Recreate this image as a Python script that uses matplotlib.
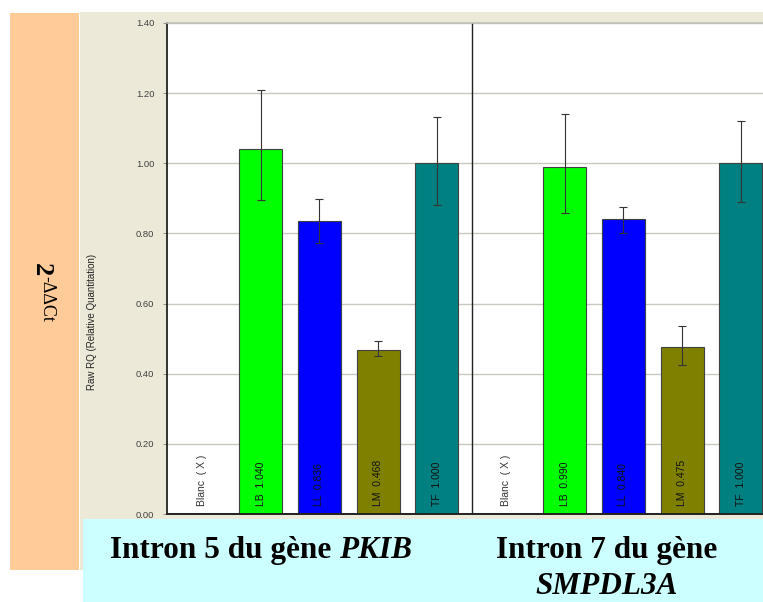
import matplotlib
matplotlib.use("Agg")
import matplotlib.pyplot as plt
from matplotlib.patches import Rectangle
import numpy as np

# data
samples = ["Blanc", "LB", "LL", "LM", "TF"]
colors = ["#FFFFFF", "#00FF00", "#0000FF", "#808000", "#008080"]
pkib_rq = [0.0, 1.040, 0.836, 0.468, 1.000]
pkib_hi = [0.0, 1.209, 0.899, 0.492, 1.133]
pkib_lo = [0.0, 0.894, 0.774, 0.450, 0.882]
smpd_rq = [0.0, 0.990, 0.840, 0.475, 1.000]
smpd_hi = [0.0, 1.141, 0.876, 0.535, 1.121]
smpd_lo = [0.0, 0.859, 0.802, 0.424, 0.891]
yticks = [0.0, 0.2, 0.4, 0.6, 0.8, 1.0, 1.2, 1.4]

W, H = 763, 602
fig = plt.figure(figsize=(W / 100, H / 100), dpi=100)
fig.patch.set_facecolor("white")


def px_rect(x0, y0, x1, y1, color, z):
    fig.add_artist(Rectangle((x0 / W, 1 - y1 / H), (x1 - x0) / W, (y1 - y0) / H,
                             transform=fig.transFigure, facecolor=color,
                             edgecolor="none", zorder=z))


px_rect(10, 13, 79, 570, "#FFCC99", -3)
px_rect(80, 12, 763, 570, "#ECE9D8", -3)

ax = fig.add_axes([167 / W, (H - 514) / H, (W - 167) / W, (514 - 23) / H])
ax.set_facecolor("white")

x1 = np.arange(5)
x2 = np.arange(5) + 5.18
width = 0.73

for xs, vals, hi, lo in [(x1, pkib_rq, pkib_hi, pkib_lo), (x2, smpd_rq, smpd_hi, smpd_lo)]:
    for i in range(1, 5):
        ax.bar(xs[i], vals[i], width=width, color=colors[i], edgecolor="#404040",
               linewidth=0.8, zorder=2)
        ax.errorbar(xs[i], vals[i], yerr=[[vals[i] - lo[i]], [hi[i] - vals[i]]],
                    fmt="none", ecolor="#333333", elinewidth=0.8, capsize=3,
                    capthick=0.8, zorder=3)
        ax.text(xs[i], 0.022, f"{samples[i]}  {vals[i]:.3f}", rotation=90,
                ha="center", va="bottom", fontsize=7.5, family="Liberation Sans",
                color="#111111", zorder=4)
    ax.text(xs[0], 0.022, "Blanc  ( X )", rotation=90, ha="center", va="bottom",
            fontsize=7.5, family="Liberation Sans", color="#333333", zorder=4)

ax.axvline(4.6, color="#222222", lw=1.0, zorder=1)
ax.set_xlim(-0.596, 9.557)
ax.set_ylim(0, 1.4)
ax.set_xticks([])
ax.set_yticks(yticks)
ax.set_yticklabels([f"{v:.2f}" for v in yticks], fontsize=6.8, color="#404040",
                   family="Liberation Sans")
ax.tick_params(axis="y", length=3, width=0.6, color="#808080", pad=6)
ax.yaxis.grid(True, color="#C8C8C0", lw=1.0, zorder=0)
ax.set_axisbelow(True)
ax.spines["right"].set_visible(False)
ax.spines["top"].set_color("#C0C0B8")
ax.spines["top"].set_linewidth(1.2)
ax.spines["left"].set_linewidth(1.2)
ax.spines["bottom"].set_linewidth(1.4)
ax.spines["left"].set_color("#111111")
ax.spines["bottom"].set_color("#222222")

fig.text(92 / W, 1 - 322 / H, "Raw RQ (Relative Quantitation)", rotation=90,
         ha="center", va="center", fontsize=7, family="Liberation Sans", color="#222222")

# 2^-ΔΔCt, rotated clockwise
fig.text(41 / W, 1 - 270 / H, "2", rotation=-90, ha="center", va="center",
         fontsize=19, family="Liberation Serif", weight="bold")
fig.text(47 / W, 1 - 299 / H, "-ΔΔCt", rotation=-90, ha="center", va="center",
         fontsize=13, family="Liberation Serif")

# caption box
px_rect(83, 519, 763, 602, "#CCFFFF", 1)

cap_size = 22.5
base1 = 1 - 558 / H
r = fig.canvas.get_renderer()
t1 = fig.text(110 / W, base1, "Intron 5 du gène ", ha="left", va="baseline",
              fontsize=cap_size, family="Liberation Serif", weight="bold", zorder=2)
bb = t1.get_window_extent(renderer=r)
fig.text(bb.x1 / W, base1, "PKIB", ha="left", va="baseline", fontsize=cap_size,
         family="Liberation Serif", weight="bold", style="italic", zorder=2)
fig.text(607 / W, base1, "Intron 7 du gène", ha="center", va="baseline",
         fontsize=cap_size, family="Liberation Serif", weight="bold", zorder=2)
fig.text(607 / W, 1 - 594 / H, "SMPDL3A", ha="center", va="baseline",
         fontsize=cap_size, family="Liberation Serif", weight="bold", style="italic",
         zorder=2)

fig.savefig("out.png", dpi=100)
